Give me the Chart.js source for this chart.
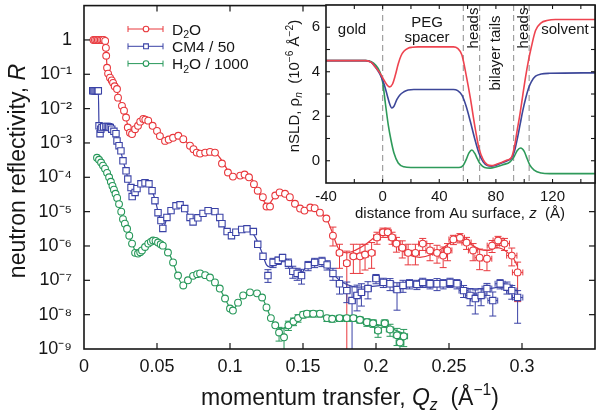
<!DOCTYPE html>
<html><head><meta charset="utf-8">
<script src="https://cdn.jsdelivr.net/npm/chart.js@4.4.1/dist/chart.umd.min.js"></script>
<style>
html,body{margin:0;padding:0;background:#fff;}
#wrap{position:relative;width:601px;height:415px;overflow:hidden;}
#main{position:absolute;left:0;top:0;width:601px;height:415px;}
#inset{position:absolute;left:285px;top:0;width:316px;height:226px;}
</style>
</head><body>
<div id="wrap"><canvas id="main" width="601" height="415"></canvas><canvas id="inset" width="316" height="226"></canvas></div>
<script>
// ---------------- DATA (main panel: Q in 1/Å, log10 R) ----------------
const qTicks = [0, 0.05, 0.1, 0.15, 0.2, 0.25, 0.3];
const qTickLabels = ['0', '0.05', '0.1', '0.15', '0.2', '0.25', '0.3'];
const rTicks = [1e-9, 1e-8, 1e-7, 1e-6, 1e-5, 1e-4, 1e-3, 1e-2, 1e-1, 1];
const rTickLabels = ['10⁻⁹', '10⁻⁸', '10⁻⁷', '10⁻⁶', '10⁻⁵', '10⁻⁴', '10⁻³', '10⁻²', '10⁻¹', '1'];

// D2O data (low-Q, no visible error bars)
const qD2O = [0.0065,0.0075,0.0085,0.0095,0.0105,0.0115,0.0125,0.0135,0.0145,0.015,0.0152,0.0158,0.0165,0.0178,0.019,0.0199,0.021,0.0226,0.0233,0.026,0.0274,0.0288,0.030,0.0315,0.0329,0.035,0.037,0.0385,0.0406,0.042,0.044,0.047,0.050,0.052,0.0555,0.058,0.061,0.0646,0.068,0.0726,0.075,0.0772,0.0795,0.083,0.0863,0.0897,0.0945,0.0986,0.102,0.107,0.110,0.113,0.1164,0.119,0.1225,0.125,0.1274,0.131,0.134,0.1377,0.141,0.1445,0.148,0.151,0.155,0.158,0.1616,0.166];
const lgD2O = [0,0,0,0,0,0,0,0,-0.03,-0.23,-0.46,-0.81,-0.98,-1.1,-1.18,-1.25,-1.35,-1.43,-1.68,-1.92,-2.06,-2.26,-2.55,-2.7,-2.74,-2.6,-2.5,-2.38,-2.3,-2.32,-2.35,-2.5,-2.65,-2.8,-2.94,-2.9,-2.85,-2.79,-2.89,-3.08,-3.18,-3.28,-3.31,-3.28,-3.26,-3.28,-3.6,-3.86,-3.98,-3.95,-3.92,-4.0,-4.2,-4.39,-4.58,-4.85,-4.85,-4.53,-4.44,-4.48,-4.58,-4.77,-4.91,-4.97,-4.88,-4.9,-5.03,-5.2];
// D2O data with error bars (decades up / down; 9 = reaches below axis)
const qD2Oe = [0.1705,0.175,0.18,0.1845,0.189,0.1925,0.197,0.2007,0.2048,0.208,0.211,0.214,0.218,0.222,0.227,0.232,0.237,0.2418,0.246,0.249,0.253,0.2575,0.262,0.2665,0.271,0.276,0.2795,0.2836,0.288,0.293,0.297];
const lgD2Oe = [-5.7,-6.2,-6.5,-6.3,-6.3,-6.25,-6.2,-5.75,-5.6,-5.6,-5.75,-5.93,-6.05,-6.2,-6.2,-5.93,-6.13,-6.2,-6.28,-6.13,-5.81,-5.76,-5.9,-6.13,-6.34,-6.37,-5.99,-5.84,-5.93,-6.28,-6.77];
const upD2O = [.25,.25,.35,.35,.35,.3,.3,.15,.12,.12,.15,.18,.2,.25,.25,.15,.2,.22,.25,.2,.12,.12,.15,.2,.25,.25,.15,.12,.15,.22,.3];
const dnD2O = [.3,.45,9,.5,.5,.45,.45,.2,.15,.15,.2,.25,.3,.35,.35,.2,.3,.3,.35,.3,.15,.15,.2,.3,.35,.35,.2,.15,.2,.3,.85];
// D2O fit
const fitQD2O = [0.006,0.0145,0.015,0.0158,0.0178,0.0199,0.0226,0.0233,0.026,0.0288,0.031,0.033,0.035,0.038,0.041,0.044,0.047,0.050,0.053,0.0555,0.059,0.062,0.065,0.068,0.072,0.076,0.0795,0.083,0.087,0.091,0.095,0.099,0.103,0.107,0.111,0.115,0.119,0.123,0.126,0.129,0.133,0.137,0.141,0.145,0.149,0.153,0.157,0.161,0.166,0.170,0.174,0.180,0.186,0.193,0.200,0.205,0.210,0.216,0.222,0.230,0.238,0.246,0.253,0.259,0.265,0.271,0.277,0.283,0.289,0.294,0.297];
const fitLgD2O = [0,0,-0.2,-0.8,-1.1,-1.25,-1.43,-1.6,-1.92,-2.3,-2.62,-2.74,-2.62,-2.42,-2.31,-2.35,-2.5,-2.66,-2.84,-2.94,-2.89,-2.83,-2.8,-2.88,-3.06,-3.25,-3.32,-3.28,-3.26,-3.33,-3.55,-3.83,-3.97,-3.95,-3.93,-4.05,-4.38,-4.68,-4.82,-4.65,-4.47,-4.46,-4.58,-4.8,-4.93,-4.93,-4.9,-5.0,-5.2,-5.6,-6.05,-6.2,-6.12,-5.95,-5.72,-5.6,-5.75,-6.05,-6.25,-6.33,-6.25,-6.05,-5.85,-5.82,-5.95,-6.1,-6.13,-6.05,-6.15,-6.35,-6.6];

// CM4 / 50
const qCM4 = [0.006,0.0068,0.0076,0.0084,0.0092,0.0098,0.0103,0.011,0.0115,0.0123,0.0135,0.015,0.016,0.017,0.018,0.019,0.0205,0.0219,0.0226,0.024,0.0253,0.0267,0.0288,0.030,0.0322,0.033,0.035,0.0363,0.039,0.0418,0.0445,0.0466,0.0486,0.0507,0.0527,0.054,0.0568,0.0596,0.063,0.0658,0.069,0.0726,0.0747,0.078,0.0815,0.085,0.0897,0.093,0.0945,0.098,0.101,0.104,0.108,0.1116,0.116,0.119,0.1226];
const lgCM4 = [-1.48,-1.48,-1.48,-1.48,-1.48,-1.48,-2.5,-2.73,-2.6,-2.55,-2.53,-2.52,-2.52,-2.53,-2.55,-2.6,-2.66,-2.73,-2.94,-3.08,-3.23,-3.52,-3.81,-4.05,-4.3,-4.56,-4.44,-4.33,-4.19,-4.16,-4.19,-4.39,-4.68,-5.03,-5.26,-5.49,-5.17,-4.97,-4.83,-4.8,-4.91,-5.17,-5.3,-5.18,-5.05,-4.97,-5.0,-5.17,-5.35,-5.58,-5.7,-5.6,-5.52,-5.5,-5.58,-5.95,-6.3];
const qCM4e = [0.126,0.1295,0.133,0.136,0.14,0.143,0.146,0.149,0.1535,0.158,0.163,0.1665,0.1705,0.175,0.18,0.1836,0.187,0.19,0.1945,0.2,0.205,0.2096,0.2144,0.2185,0.223,0.228,0.232,0.237,0.2418,0.246,0.2507,0.2555,0.26,0.2644,0.268,0.272,0.276,0.28,0.285,0.2897,0.293,0.297];
const lgCM4e = [-6.86,-6.48,-6.42,-6.34,-6.5,-6.74,-6.8,-6.86,-6.57,-6.48,-6.45,-6.55,-6.8,-7.1,-7.3,-7.59,-7.44,-7.35,-7.24,-6.95,-7.06,-7.1,-7.27,-7.15,-7.1,-7.12,-7.06,-7.1,-7.1,-7.1,-7.06,-7.1,-7.3,-7.44,-7.53,-7.44,-7.24,-7.59,-7.1,-7.2,-7.3,-7.5];
const upCM4 = [.17,.12,.1,.1,.12,.15,.15,.18,.12,.12,.12,.12,.15,.2,.25,.4,.3,.25,.2,.12,.12,.15,.2,.15,.12,.12,.12,.12,.15,.12,.12,.12,.15,.2,.25,.2,.15,.25,.12,.15,.15,.2];
const dnCM4 = [.2,.15,.12,.12,.15,.2,.2,.25,.15,.15,.15,.15,.2,.3,.35,9,.45,.4,.3,.15,.15,.2,.6,.2,.15,.15,.15,.15,.2,.15,.15,.15,.2,.3,.45,.3,.2,.45,.15,.2,.25,.75];
const fitQCM4 = [0.006,0.0098,0.0103,0.011,0.012,0.014,0.017,0.019,0.022,0.024,0.027,0.029,0.031,0.033,0.035,0.037,0.040,0.043,0.046,0.049,0.051,0.053,0.0545,0.057,0.060,0.064,0.067,0.070,0.073,0.075,0.078,0.082,0.086,0.090,0.094,0.098,0.102,0.106,0.110,0.114,0.118,0.122,0.125,0.128,0.132,0.136,0.140,0.144,0.148,0.152,0.156,0.160,0.165,0.170,0.175,0.180,0.188,0.196,0.205,0.215,0.225,0.235,0.245,0.255,0.265,0.275,0.285,0.297];
const fitLgCM4 = [-1.48,-1.48,-2.5,-2.68,-2.6,-2.53,-2.53,-2.6,-2.8,-3.05,-3.55,-3.85,-4.2,-4.52,-4.45,-4.3,-4.18,-4.18,-4.33,-4.7,-5.05,-5.3,-5.45,-5.15,-4.95,-4.82,-4.83,-4.98,-5.2,-5.28,-5.15,-5.02,-4.98,-5.03,-5.3,-5.58,-5.68,-5.58,-5.5,-5.55,-5.8,-6.2,-6.55,-6.62,-6.42,-6.33,-6.45,-6.72,-6.82,-6.62,-6.48,-6.45,-6.55,-6.78,-7.0,-7.12,-7.2,-7.18,-7.15,-7.2,-7.18,-7.2,-7.18,-7.18,-7.25,-7.25,-7.2,-7.3];

// H2O / 1000
const qH2O = [0.0089,0.0103,0.0117,0.013,0.0144,0.0158,0.0172,0.0184,0.0195,0.0205,0.0216,0.0227,0.024,0.0255,0.0267,0.028,0.0295,0.031,0.0329,0.035,0.037,0.0385,0.0397,0.0418,0.044,0.0458,0.0473,0.049,0.0507,0.0525,0.054,0.0575,0.061,0.0644,0.068,0.0712,0.0747,0.0775,0.0795,0.083,0.0863,0.0897,0.093,0.0966,0.1,0.102,0.1055,0.109,0.1137,0.1185,0.122,0.125,0.128,0.131];
const lgH2O = [-3.43,-3.49,-3.57,-3.66,-3.75,-3.87,-4.0,-4.13,-4.25,-4.36,-4.48,-4.6,-4.78,-5.0,-5.22,-5.35,-5.5,-5.7,-5.93,-6.2,-6.22,-6.18,-6.13,-6.03,-5.93,-5.88,-5.84,-5.85,-5.9,-5.95,-5.99,-6.19,-6.48,-6.86,-7.15,-7.0,-6.87,-6.82,-6.8,-6.85,-6.92,-7.06,-7.24,-7.53,-7.82,-7.88,-7.65,-7.44,-7.35,-7.38,-7.5,-7.79,-8.1,-8.31];
const qH2Oe = [0.1336,0.137,0.14,0.1435,0.1466,0.15,0.1527,0.157,0.1616,0.1664,0.17,0.175,0.18,0.1845,0.189,0.1938,0.198,0.2014,0.206,0.2096,0.2144,0.2164,0.219];
const lgH2Oe = [-8.52,-8.66,-8.31,-8.2,-8.1,-8.0,-7.97,-7.97,-7.97,-8.1,-8.12,-8.1,-8.1,-8.1,-8.15,-8.22,-8.25,-8.46,-8.25,-8.43,-8.6,-8.81,-8.63];
const upH2O = [.15,.25,.12,.1,.1,.08,.08,.08,.08,.08,.08,.08,.08,.08,.08,.1,.1,.15,.1,.15,.2,.2,.2];
const dnH2O = [.25,9,.15,.12,.12,.1,.1,.1,.1,.1,.1,.1,.1,.1,.1,.12,.12,.2,.12,.2,.3,.35,.3];
const fitQH2O = [0.0089,0.013,0.016,0.019,0.022,0.0247,0.027,0.030,0.033,0.0355,0.037,0.040,0.044,0.047,0.050,0.054,0.058,0.061,0.064,0.068,0.0715,0.075,0.079,0.083,0.087,0.090,0.093,0.0966,0.100,0.102,0.1055,0.109,0.113,0.118,0.122,0.125,0.128,0.132,0.136,0.140,0.146,0.152,0.158,0.164,0.170,0.180,0.190,0.200,0.210,0.219];
const fitLgH2O = [-3.43,-3.66,-3.88,-4.18,-4.53,-4.9,-5.25,-5.58,-5.93,-6.18,-6.22,-6.12,-5.93,-5.84,-5.86,-5.99,-6.2,-6.48,-6.85,-7.15,-7.0,-6.87,-6.8,-6.85,-6.95,-7.08,-7.25,-7.53,-7.8,-7.85,-7.65,-7.45,-7.35,-7.37,-7.5,-7.78,-8.1,-8.35,-8.4,-8.3,-8.12,-7.98,-7.97,-8.05,-8.12,-8.12,-8.18,-8.28,-8.4,-8.55];
const qResolution = 0.012; // dQ/Q, half width of horizontal error bars

// ---------------- DATA (inset: nSLD profiles) ----------------
const zTicks = [-40, 0, 40, 80, 120];
const zMinorTicks = [-20, 20, 60, 100, 140];
const sldTicks = [0, 2, 4, 6];
const sldMinorTicks = [1, 3, 5];
const layerBounds = [0, 57, 68.5, 92.5, 103.5];
const zD2O = [-40,-12,-8,-5,-2,1,3,5,7,9,11,13,15,18,21,25,50,53,56,59,62,65,68,71,74,77,80,84,88,91,93,95,97,99,101,103,105,108,112,116,122,150];
const sldD2O = [4.5,4.5,4.42,4.2,3.95,3.62,3.42,3.32,3.45,3.85,4.35,4.72,4.92,5.06,5.1,5.12,5.12,5.05,4.75,3.85,2.8,1.6,0.58,0.05,-0.18,-0.22,-0.17,-0.08,0.03,0.15,0.6,1.35,2.1,2.95,3.78,4.5,5.1,5.85,6.2,6.3,6.35,6.35];
const zCM4 = [-40,-12,-8,-5,-2,1,3,5,6.5,8,10,12.5,15,18,22,50,53,56,59,62,65,68,71,74,77,80,84,88,91,93,95,97,99,101,103,105,108,112,118,150];
const sldCM4 = [4.5,4.5,4.42,4.2,3.9,3.45,3.0,2.55,2.37,2.45,2.75,2.98,3.1,3.18,3.2,3.2,3.15,2.95,2.45,1.75,1.0,0.35,-0.05,-0.22,-0.25,-0.2,-0.1,0.0,0.12,0.4,0.95,1.6,2.25,2.8,3.25,3.55,3.8,3.9,3.93,3.95];
const zH2O = [-40,-12,-8,-5,-2,0,2,4,6,8,11,15,20,54,57,59,61,63,65,67,69,72,76,80,85,90,93,95,97.5,100,102,104,107,112,118,150];
const sldH2O = [4.5,4.5,4.45,4.3,4.0,3.55,2.55,1.6,0.9,0.35,-0.1,-0.27,-0.3,-0.3,-0.2,0.05,0.35,0.48,0.34,0.08,-0.15,-0.3,-0.33,-0.28,-0.18,-0.05,0.2,0.45,0.57,0.42,0.1,-0.2,-0.42,-0.55,-0.58,-0.58];

// ---------------- STYLE ----------------
const FAM = "'Liberation Sans', Arial, Helvetica, sans-serif";
const C_RED = '#e8383d', C_BLUE = '#3a42a6', C_GREEN = '#27985a';
const CI_RED = '#ee4450', CI_BLUE = '#3d4799', CI_GREEN = '#2e9a5a';
const INK = '#161616';

const legendRows = [
  {segs: [{t:'D'},{t:'2',sub:true},{t:'O'}], color: C_RED, style: 'circle'},
  {segs: [{t:'CM4 / 50'}], color: C_BLUE, style: 'rect'},
  {segs: [{t:'H'},{t:'2',sub:true},{t:'O / 1000'}], color: C_GREEN, style: 'circle'}
];

function pts(q, lg) { return q.map((v, i) => ({x: v, y: Math.pow(10, lg[i])})); }
function lin(a, b) { return a.map((v, i) => ({x: v, y: b[i]})); }
function noPad(s) { s.paddingTop = 0; s.paddingBottom = 0; s.paddingLeft = 0; s.paddingRight = 0; }

function drawRich(ctx, segs, x, y, size, align) {
  let total = 0;
  const parts = segs.map(s => {
    const fs = (s.sub || s.sup) ? size * 0.68 : size;
    const font = (s.it ? 'italic ' : '') + fs + 'px ' + FAM;
    ctx.font = font;
    const w = ctx.measureText(s.t).width;
    total += w;
    return {s, font, w};
  });
  let cx = align === 'center' ? x - total / 2 : (align === 'right' ? x - total : x);
  ctx.textAlign = 'left';
  ctx.textBaseline = 'alphabetic';
  for (const p of parts) {
    ctx.font = p.font;
    let dy = 0;
    if (p.s.sub) dy = size * 0.22;
    if (p.s.sup) dy = -size * 0.42;
    ctx.fillText(p.s.t, cx, y + dy);
    cx += p.w;
  }
}
function seg(ctx, x1, y1, x2, y2) { ctx.beginPath(); ctx.moveTo(x1, y1); ctx.lineTo(x2, y2); ctx.stroke(); }
function marker(ctx, style, x, y, r, color) {
  ctx.save(); ctx.fillStyle = '#fff'; ctx.strokeStyle = color; ctx.lineWidth = 1.1;
  ctx.beginPath();
  if (style === 'rect') { const s = r * 0.85; ctx.rect(x - s, y - s, 2 * s, 2 * s); }
  else ctx.arc(x, y, r, 0, Math.PI * 2);
  ctx.fill(); ctx.stroke(); ctx.restore();
}

// ---------------- MAIN CHART ----------------
const errPlugin = {
  id: 'errbars',
  beforeDatasetsDraw(chart) {
    const {ctx, chartArea: a, scales: {x, y}} = chart;
    ctx.save();
    ctx.beginPath(); ctx.rect(a.left, a.top, a.right - a.left, a.bottom - a.top); ctx.clip();
    chart.data.datasets.forEach(ds => {
      if (!ds.err) return;
      const e = ds.err;
      ctx.strokeStyle = ds.pointBorderColor; ctx.lineWidth = 1;
      e.q.forEach((q, i) => {
        const px = x.getPixelForValue(q);
        const py = y.getPixelForValue(Math.pow(10, e.lg[i]));
        const top = y.getPixelForValue(Math.pow(10, e.lg[i] + e.up[i]));
        const toBottom = e.dn[i] >= 9;
        const bot = toBottom ? a.bottom + 4 : y.getPixelForValue(Math.pow(10, e.lg[i] - e.dn[i]));
        seg(ctx, px, top, px, bot);
        seg(ctx, px - 3.5, top, px + 3.5, top);
        if (!toBottom) seg(ctx, px - 3.5, bot, px + 3.5, bot);
        const hw = x.getPixelForValue(q * (1 + qResolution)) - px;
        if (hw > 3) {
          seg(ctx, px - hw, py, px + hw, py);
          seg(ctx, px - hw, py - 3, px - hw, py + 3);
          seg(ctx, px + hw, py - 3, px + hw, py + 3);
        }
      });
    });
    ctx.restore();
  }
};

const mainDecor = {
  id: 'mainDecor',
  afterDraw(chart) {
    const {ctx, chartArea: a, scales: {x, y}} = chart;
    ctx.save();
    ctx.strokeStyle = INK; ctx.lineWidth = 1.6;
    ctx.strokeRect(a.left, a.top, a.right - a.left, a.bottom - a.top);
    ctx.lineWidth = 1.2;
    qTicks.forEach(v => {
      const px = x.getPixelForValue(v);
      if (px <= a.left + 1) return;
      seg(ctx, px, a.bottom, px, a.bottom - 6);
      seg(ctx, px, a.top, px, a.top + 6);
    });
    rTicks.forEach(v => {
      const py = y.getPixelForValue(v);
      if (py >= a.bottom - 1) return;
      seg(ctx, a.left, py, a.left + 6, py);
      seg(ctx, a.right, py, a.right - 6, py);
    });
    // legend
    legendRows.forEach((row, i) => {
      const ly = 29 + i * 17.3;
      ctx.strokeStyle = row.color; ctx.lineWidth = 1;
      seg(ctx, 128, ly, 163, ly);
      seg(ctx, 128, ly - 3, 128, ly + 3);
      seg(ctx, 163, ly - 3, 163, ly + 3);
      marker(ctx, row.style, 146, ly, 2.8, row.color);
      ctx.fillStyle = INK;
      drawRich(ctx, row.segs, 172, ly + 5.5, 15.5, 'left');
    });
    // axis titles
    ctx.fillStyle = INK;
    drawRich(ctx, [{t:'momentum transfer, '},{t:'Q',it:true},{t:'z',it:true,sub:true},{t:'  (Å'},{t:'−1',sup:true},{t:')'}], 350, 405, 23, 'center');
    ctx.save();
    ctx.translate(25, 171); ctx.rotate(-Math.PI / 2);
    drawRich(ctx, [{t:'neutron reflectivity, '},{t:'R',it:true}], 0, 0, 23, 'center');
    ctx.restore();
    ctx.restore();
  }
};

new Chart(document.getElementById('main'), {
  type: 'scatter',
  data: {
    datasets: [
      {label: 'D2O', data: pts(qD2O.concat(qD2Oe), lgD2O.concat(lgD2Oe)), showLine: false, pointStyle: 'circle', pointRadius: 3.4, pointBorderWidth: 1.1, pointBorderColor: C_RED, pointBackgroundColor: '#fff', err: {q: qD2Oe, lg: lgD2Oe, up: upD2O, dn: dnD2O}},
      {label: 'CM4 / 50', data: pts(qCM4.concat(qCM4e), lgCM4.concat(lgCM4e)), showLine: false, pointStyle: 'rect', pointRadius: 4.5, pointBorderWidth: 1.1, pointBorderColor: C_BLUE, pointBackgroundColor: '#fff', err: {q: qCM4e, lg: lgCM4e, up: upCM4, dn: dnCM4}},
      {label: 'H2O / 1000', data: pts(qH2O.concat(qH2Oe), lgH2O.concat(lgH2Oe)), showLine: false, pointStyle: 'circle', pointRadius: 3.4, pointBorderWidth: 1.1, pointBorderColor: C_GREEN, pointBackgroundColor: '#fff', err: {q: qH2Oe, lg: lgH2Oe, up: upH2O, dn: dnH2O}},
      {label: 'fit D2O', data: pts(fitQD2O, fitLgD2O), showLine: true, pointRadius: 0, borderColor: C_RED, borderWidth: 1.2, cubicInterpolationMode: 'monotone'},
      {label: 'fit CM4', data: pts(fitQCM4, fitLgCM4), showLine: true, pointRadius: 0, borderColor: C_BLUE, borderWidth: 1.2, cubicInterpolationMode: 'monotone'},
      {label: 'fit H2O', data: pts(fitQH2O, fitLgH2O), showLine: true, pointRadius: 0, borderColor: C_GREEN, borderWidth: 1.2, cubicInterpolationMode: 'monotone'}
    ]
  },
  options: {
    responsive: false, animation: false, events: [],
    plugins: {legend: {display: false}, tooltip: {enabled: false}},
    layout: {padding: {left: 0, right: 6, top: 5, bottom: 0}},
    scales: {
      x: {
        type: 'linear', min: 0, max: 0.35,
        afterBuildTicks: s => { s.ticks = qTicks.map(v => ({value: v})); },
        afterFit: s => { s.height = 66; noPad(s); },
        grid: {display: false, drawTicks: false}, border: {display: false},
        ticks: {autoSkip: false, maxRotation: 0, padding: 7, color: INK, font: {family: FAM, size: 18},
          callback: v => qTickLabels[qTicks.findIndex(t => Math.abs(t - v) < 1e-9)]}
      },
      y: {
        type: 'logarithmic', min: 1e-9, max: 10,
        afterBuildTicks: s => { s.ticks = rTicks.map(v => ({value: v})); },
        afterFit: s => { s.width = 84; noPad(s); },
        grid: {display: false, drawTicks: false}, border: {display: false},
        ticks: {autoSkip: false, padding: 12, color: INK, font: {family: FAM, size: 18},
          callback: v => rTickLabels[rTicks.findIndex(t => Math.abs(Math.log10(t) - Math.log10(v)) < 1e-6)]}
      }
    }
  },
  plugins: [errPlugin, mainDecor]
});

// ---------------- INSET CHART ----------------
const insetBg = {
  id: 'insetBg',
  beforeDraw(chart) {
    const {ctx, chartArea: a} = chart;
    ctx.save(); ctx.fillStyle = '#fff';
    ctx.fillRect(a.left, a.top, a.right - a.left, a.bottom - a.top);
    ctx.restore();
  },
  beforeDatasetsDraw(chart) {
    const {ctx, chartArea: a, scales: {x}} = chart;
    ctx.save(); ctx.strokeStyle = '#a0a0a0'; ctx.lineWidth = 1.2; ctx.setLineDash([6, 4]);
    layerBounds.forEach(z => { const px = x.getPixelForValue(z); seg(ctx, px, a.top, px, a.bottom); });
    ctx.restore();
  }
};
const insetDecor = {
  id: 'insetDecor',
  afterDraw(chart) {
    const {ctx, chartArea: a, scales: {x, y}} = chart;
    ctx.save();
    ctx.strokeStyle = INK; ctx.lineWidth = 1.6;
    ctx.strokeRect(a.left, a.top, a.right - a.left, a.bottom - a.top);
    ctx.lineWidth = 1.1;
    zTicks.concat(zMinorTicks).forEach(v => {
      const px = x.getPixelForValue(v);
      if (px <= a.left + 1 || px >= a.right - 1) return;
      seg(ctx, px, a.bottom, px, a.bottom - 4);
      seg(ctx, px, a.top, px, a.top + 4);
    });
    sldTicks.concat(sldMinorTicks).forEach(v => {
      const py = y.getPixelForValue(v);
      seg(ctx, a.left, py, a.left + 4, py);
      seg(ctx, a.right, py, a.right - 4, py);
    });
    ctx.fillStyle = INK;
    // region labels
    drawRich(ctx, [{t:'gold'}], 67, 34, 15, 'center');
    drawRich(ctx, [{t:'PEG'}], 142, 27, 15, 'center');
    drawRich(ctx, [{t:'spacer'}], 142, 42, 15, 'center');
    drawRich(ctx, [{t:'solvent'}], 280, 34, 15, 'center');
    [[193, 28, 'heads'], [215, 53, 'bilayer tails'], [243, 28, 'heads']].forEach(([bx, cy, t]) => {
      ctx.save(); ctx.translate(bx, cy); ctx.rotate(-Math.PI / 2);
      drawRich(ctx, [{t}], 0, 0, 15, 'center');
      ctx.restore();
    });
    // axis titles
    drawRich(ctx, [{t:'distance from Au surface, '},{t:'z',it:true},{t:'  (Å)'}], 175, 218, 15, 'center');
    ctx.save(); ctx.translate(14, 86); ctx.rotate(-Math.PI / 2);
    drawRich(ctx, [{t:'nSLD, ρ'},{t:'n',it:true,sub:true},{t:'  (10'},{t:'−6',sup:true},{t:' Å'},{t:'−2',sup:true},{t:')'}], 0, 0, 15, 'center');
    ctx.restore();
    ctx.restore();
  }
};

new Chart(document.getElementById('inset'), {
  type: 'scatter',
  data: {
    datasets: [
      {label: 'D2O', data: lin(zD2O, sldD2O), showLine: true, pointRadius: 0, borderColor: CI_RED, borderWidth: 1.6, cubicInterpolationMode: 'monotone'},
      {label: 'CM4', data: lin(zCM4, sldCM4), showLine: true, pointRadius: 0, borderColor: CI_BLUE, borderWidth: 1.6, cubicInterpolationMode: 'monotone'},
      {label: 'H2O', data: lin(zH2O, sldH2O), showLine: true, pointRadius: 0, borderColor: CI_GREEN, borderWidth: 1.6, cubicInterpolationMode: 'monotone'}
    ]
  },
  options: {
    responsive: false, animation: false, events: [],
    plugins: {legend: {display: false}, tooltip: {enabled: false}},
    layout: {padding: {left: 0, right: 6, top: 5, bottom: 0}},
    scales: {
      x: {
        type: 'linear', min: -40, max: 150,
        afterBuildTicks: s => { s.ticks = zTicks.map(v => ({value: v})); },
        afterFit: s => { s.height = 43; noPad(s); },
        grid: {display: false, drawTicks: false}, border: {display: false},
        ticks: {autoSkip: false, maxRotation: 0, padding: 5, color: INK, font: {family: FAM, size: 15}, callback: v => String(v)}
      },
      y: {
        type: 'linear', min: -1, max: 7,
        afterBuildTicks: s => { s.ticks = sldTicks.map(v => ({value: v})); },
        afterFit: s => { s.width = 41; noPad(s); },
        grid: {display: false, drawTicks: false}, border: {display: false},
        ticks: {autoSkip: false, padding: 6, color: INK, font: {family: FAM, size: 15}, callback: v => String(v)}
      }
    }
  },
  plugins: [insetBg, insetDecor]
});
</script>
</body></html>
